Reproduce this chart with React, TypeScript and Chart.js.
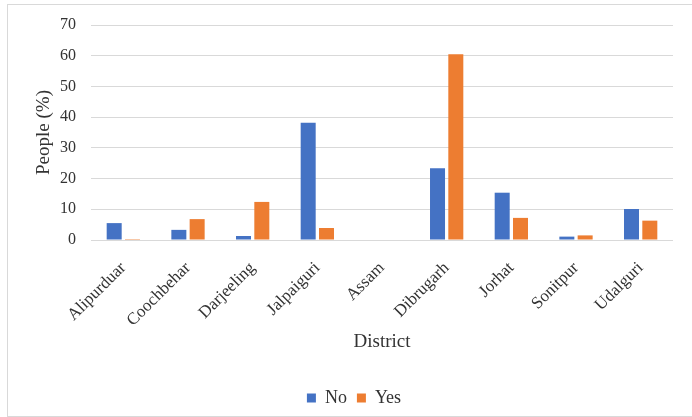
import React, { useEffect, useRef } from "react";
import { Chart, registerables } from "chart.js";

Chart.register(...registerables);

const districts = [
  "Alipurduar",
  "Coochbehar",
  "Darjeeling",
  "Jalpaiguri",
  "Assam",
  "Dibrugarh",
  "Jorhat",
  "Sonitpur",
  "Udalguri",
];
const noValues = [5.5, 3.3, 1.3, 38.2, 0, 23.4, 15.4, 1.1, 10.1];
const yesValues = [0.3, 6.8, 12.4, 3.9, 0, 60.5, 7.2, 1.5, 6.3];
const yTicks = [0, 10, 20, 30, 40, 50, 60, 70];

const FONT = "'Liberation Serif', 'Times New Roman', serif";
const TEXT = "#333333";

export default function App() {
  const canvasRef = useRef<HTMLCanvasElement | null>(null);

  useEffect(() => {
    const canvas = canvasRef.current;
    if (!canvas) return;
    const chart = new Chart(canvas, {
      type: "bar",
      data: {
        labels: districts,
        datasets: [
          {
            label: "No",
            data: noValues,
            backgroundColor: "#4472C4",
            borderWidth: 0,
            categoryPercentage: 0.566,
            barPercentage: 0.82,
          },
          {
            label: "Yes",
            data: yesValues,
            backgroundColor: "#ED7D31",
            borderWidth: 0,
            categoryPercentage: 0.566,
            barPercentage: 0.82,
          },
        ],
      },
      options: {
        responsive: false,
        animation: false,
        layout: { padding: { left: 16, right: 0, top: 25, bottom: 0 } },
        plugins: {
          tooltip: { enabled: false },
          legend: {
            position: "bottom",
            labels: {
              boxWidth: 9,
              boxHeight: 9,
              padding: 10,
              color: TEXT,
              font: { family: FONT, size: 18 },
            },
          },
        },
        scales: {
          x: {
            grid: { display: false },
            border: { display: false },
            ticks: {
              autoSkip: false,
              maxRotation: 45,
              minRotation: 45,
              padding: 10,
              color: TEXT,
              font: { family: FONT, size: 17 },
            },
            title: {
              display: true,
              text: "District",
              color: TEXT,
              font: { family: FONT, size: 19 },
              padding: { top: 0, bottom: 26 },
            },
            afterFit: (s: any) => {
              s.height = 139;
            },
          },
          y: {
            min: 0,
            max: 70,
            afterBuildTicks: (s: any) => {
              s.ticks = yTicks.map((v) => ({ value: v }));
            },
            grid: { color: "#d9d9d9", lineWidth: 1, drawTicks: false },
            border: { display: false },
            ticks: {
              padding: 15,
              color: TEXT,
              font: { family: FONT, size: 16 },
            },
            title: {
              display: true,
              text: "People (%)",
              color: TEXT,
              font: { family: FONT, size: 19 },
              padding: { top: 16.5, bottom: 0 },
            },
            afterFit: (s: any) => {
              s.width = 75;
            },
          },
          yRight: {
            type: "linear",
            position: "right",
            display: true,
            grid: { display: false },
            border: { display: false },
            ticks: { display: false },
            afterFit: (s: any) => {
              s.width = 19;
            },
          },
        },
      },
    });
    return () => chart.destroy();
  }, []);

  return (
    <div
      style={{
        position: "fixed",
        left: 0,
        top: 0,
        width: 692,
        height: 417,
        overflow: "hidden",
        background: "#ffffff",
      }}
    >
      <div
        style={{
          position: "absolute",
          left: 7,
          top: 4,
          width: 720,
          height: 411,
          border: "1px solid #d9d9d9",
          boxSizing: "content-box",
        }}
      />
      <canvas
        ref={canvasRef}
        width={692}
        height={417}
        style={{ position: "absolute", left: 0, top: 0, width: 692, height: 417 }}
      />
    </div>
  );
}
